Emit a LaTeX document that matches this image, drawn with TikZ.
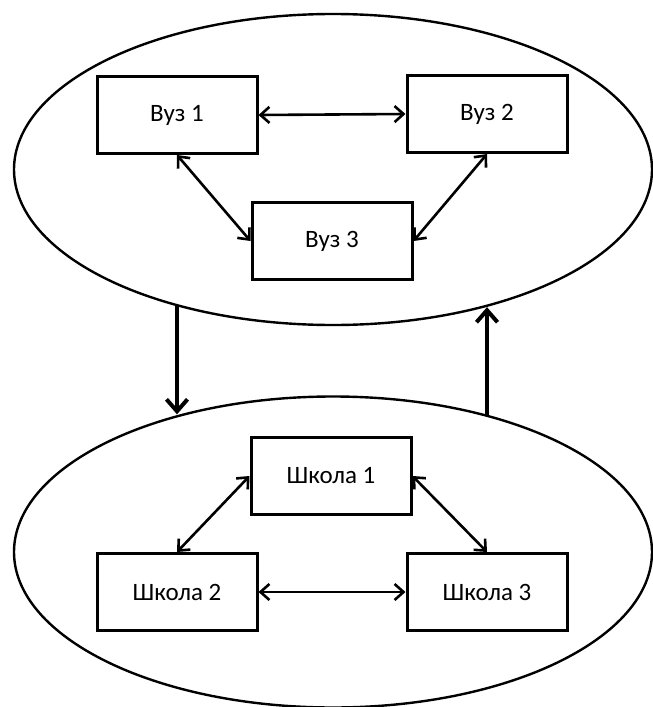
\documentclass[tikz,border=0pt]{standalone}
\usepackage{fontspec}
\setmainfont{Carlito}
\usetikzlibrary{arrows.meta,shapes.geometric}

\begin{document}
\begin{tikzpicture}[x=1pt,y=-1pt,
  oval/.style={draw,ellipse,line width=2.4pt,inner sep=0pt,minimum width=638pt,minimum height=311pt},
  unit/.style={draw,rectangle,line width=3pt,minimum width=160pt,minimum height=77pt,inner sep=0pt,
    font=\fontsize{25}{30}\selectfont},
  link/.style={line width=2.6pt,{Straight Barb[length=9pt,width=16pt]}-{Straight Barb[length=9pt,width=16pt]}},
  flow/.style={line width=4pt,-{Straight Barb[length=12pt,width=21pt]}}]
\useasboundingbox (0,0) rectangle (653,707);
% groups
\node[oval] (vuzy) at (333,169.5) {};
\node[oval] (shkoly) at (333,552) {};
% universities
\node[unit] (v1) at (177,115) {Вуз 1};
\node[unit] (v2) at (487,114) {Вуз 2};
\node[unit] (v3) at (332,241) {Вуз 3};
% schools
\node[unit] (s1) at (331,476) {Школа 1};
\node[unit] (s2) at (177,592) {Школа 2};
\node[unit] (s3) at (487,592) {Школа 3};
\draw[link] (v1.east) -- (v2.west);
\draw[link] (v1.south) -- (v3.west);
\draw[link] (v2.south) -- (v3.east);
\draw[link] (s1.west) -- (s2.north);
\draw[link] (s1.east) -- (s3.north);
\draw[link] (s2.east) -- (s3.west);
% between the groups
\draw[flow] (v1.south |- vuzy.221.5) -- (v1.south |- shkoly.138.5);
\draw[flow] (v2.south |- shkoly.41.2) -- (v2.south |- vuzy.318.8);
\end{tikzpicture}
\end{document}
